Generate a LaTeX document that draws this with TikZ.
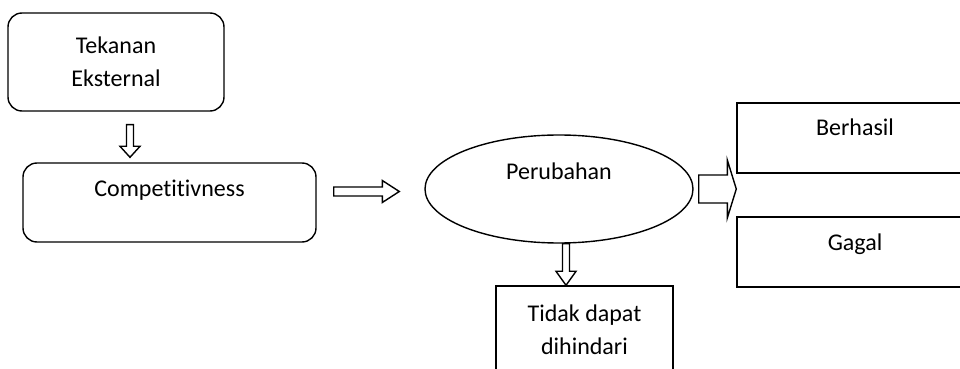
\documentclass[tikz,border=0pt]{standalone}
\usepackage{fontspec}
\setmainfont{Carlito}[Ligatures=NoCommon]
\usepackage{tikz}
\usetikzlibrary{shapes, calc, positioning}
\tikzstyle{roundbox} = [rectangle, draw, fill=white, rounded corners=7pt,
    align=center, inner sep=0pt]
\tikzstyle{plainbox} = [rectangle, draw, fill=white,
    align=center, inner sep=0pt]
\tikzstyle{outcome} = [plainbox, minimum width=118pt, minimum height=35pt,
    text height=8pt, text depth=10pt]
\tikzstyle{change} = [ellipse, draw, fill=white, inner sep=0pt,
    minimum width=134pt, minimum height=54pt, text height=8pt, text depth=17pt]
\tikzstyle{arrowbody} = [draw, fill=white, line join=miter]

% hollow block arrow: tail, tip, half shaft, half head, head length
\newcommand{\hollowarrow}[5]{%
    \coordinate (ha-base) at ($#2!#5!#1$);
    \draw [arrowbody] ($#1!#3!90:#2$) -- ($(ha-base)!#3!90:#2$)
        -- ($(ha-base)!#4!90:#2$) -- #2 -- ($(ha-base)!#4!-90:#2$)
        -- ($(ha-base)!#3!-90:#2$) -- ($#1!#3!-90:#2$) -- cycle;
}

\begin{document}
\begin{tikzpicture}[x=0.5pt, y=-0.5pt, line width=0.7pt,
    font=\fontsize{12}{16.5}\selectfont]
    \clip (0,0) rectangle (960,369);
    % Nodes
    \node [roundbox, minimum width=108pt, minimum height=49pt] (ext) at (116,62)
        {Tekanan\\Eksternal};
    \node [roundbox, below of=ext, node distance=70.25pt, xshift=26.75pt,
        minimum width=146.5pt, minimum height=39.5pt,
        text height=8pt, text depth=13.5pt] (comp) {Competitivness};
    \node [change, right of=comp, node distance=194.75pt, yshift=6.75pt] (per) {Perubahan};
    \node [plainbox, below of=per, node distance=70.25pt, xshift=12.75pt,
        minimum width=88.5pt, minimum height=43.5pt] (tdk) {Tidak dapat\\dihindari};
    \node [outcome, right of=per, node distance=148pt, yshift=25.5pt] (ber) {Berhasil};
    \node [outcome, below of=ber, node distance=57pt] (gag) {Gagal};

    % Edges
    \coordinate (a1s) at ($(ext.south)+(14,13)$);
    \coordinate (a1e) at ($(a1s |- comp.north)+(0,-5)$);
    \coordinate (a2s) at ($(comp.east)+(17,-11)$);
    \coordinate (a2e) at ($(a2s -| per.west)+(-25,0)$);
    \coordinate (a3s) at ($(per.south)+(7,0)$);
    \coordinate (a3e) at (a3s |- tdk.north);
    \coordinate (a4s) at ($(per.east)+(5,0)$);
    \coordinate (a4e) at (a4s -| ber.west);
    \hollowarrow{(a1s)}{(a1e)}{1.75pt}{5pt}{5.5pt}
    \hollowarrow{(a2s)}{(a2e)}{2.25pt}{5.5pt}{8.5pt}
    \hollowarrow{(a3s)}{(a3e)}{1.75pt}{5pt}{7pt}
    \hollowarrow{(a4s)}{(a4e)}{7pt}{14.5pt}{4.5pt}
\end{tikzpicture}
\end{document}
